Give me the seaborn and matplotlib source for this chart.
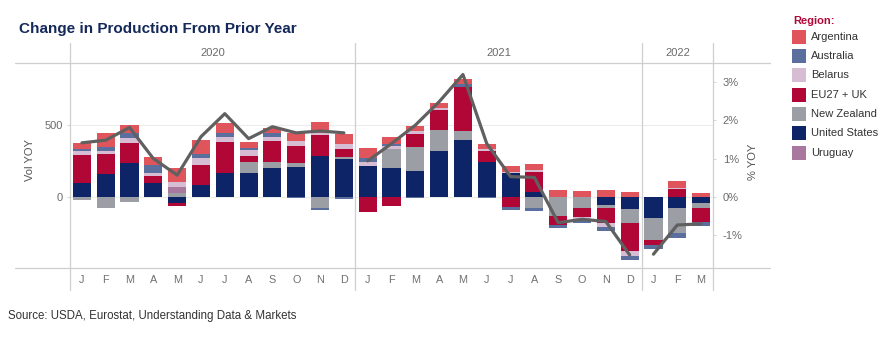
import numpy as np
import pandas as pd
import matplotlib
matplotlib.use("Agg")
import matplotlib.pyplot as plt
import seaborn as sns
from matplotlib.patches import Rectangle
from matplotlib.lines import Line2D

# ---------------- data ----------------
years = ["2020", "2021", "2022"]
months_2020 = ["J", "F", "M", "A", "M", "J", "J", "A", "S", "O", "N", "D"]
months_2021 = ["J", "F", "M", "A", "M", "J", "J", "A", "S", "O", "N", "D"]
months_2022 = ["J", "F", "M"]

regions = ["Argentina", "Australia", "Belarus", "EU27 + UK",
           "New Zealand", "United States", "Uruguay"]

united_states = [95, 158, 238, 95, -44, 83, 164, 169, 204, 211, 285, 262,
                 215, 204, 183, 319, 394, 245, 164, 37, 0, 0, -56, -83,
                 -148, -74, -39]
new_zealand = [-20, -79, -35, 0, 30, 0, 0, 76, 42, 23, -79, 19,
               0, 127, 162, 150, 65, 0, 0, -74, -132, -79, -23, -100,
               -150, -174, -35]
eu27_uk = [197, 139, 139, 51, -19, 139, 220, 39, 146, 123, 146, 56,
           -102, -60, 93, 134, 308, 76, -72, 139, -62, -58, -104, -192,
           -35, 53, -100]
uruguay = [0, 0, 0, 0, 39, 0, 0, 0, 0, 0, 0, 0,
           0, 0, 0, 0, 0, 0, 0, 0, 0, 0, 0, 0,
           0, 0, 0]
belarus = [30, 25, 30, 23, 37, 46, 35, 42, 28, 32, 12, 30,
           30, 23, 21, 16, 0, 16, 12, 12, 0, -23, -23, -35,
           0, 12, 0]
australia = [10, 28, 35, 53, 0, 28, 23, 12, 23, -10, -10, -14,
             23, 14, -10, 0, 19, -8, -16, -21, -19, -23, -30, -28,
             -30, -39, -28]
argentina = [45, 93, 58, 58, 97, 100, 69, 46, 35, 58, 81, 69,
             74, 51, 35, 35, 35, 30, 39, 42, 49, 44, 49, 37,
             0, 46, 30]

pct_yoy = [1.41, 1.48, 1.81, 1.00, 0.57, 1.57, 2.17, 1.52, 1.83, 1.67, 1.72, 1.67,
           0.94, 1.39, 1.87, 2.48, 3.19, 1.39, 0.53, 0.51, -0.67, -0.58, -0.64, -1.51,
           -1.49, -0.73, -0.70]

# ---------------- styling ----------------
colors = {
    "Argentina": "#e0555c",
    "Australia": "#5b6f9e",
    "Belarus": "#d6bdd3",
    "EU27 + UK": "#b00737",
    "New Zealand": "#9b9ea5",
    "United States": "#0d2466",
    "Uruguay": "#a9789f",
}
series = {
    "United States": united_states, "New Zealand": new_zealand,
    "EU27 + UK": eu27_uk, "Uruguay": uruguay, "Belarus": belarus,
    "Australia": australia, "Argentina": argentina,
}
stack_order = ["United States", "New Zealand", "EU27 + UK", "Uruguay",
               "Belarus", "Australia", "Argentina"]

month_labels = months_2020 + months_2021 + months_2022
year_of = [years[0]] * len(months_2020) + [years[1]] * len(months_2021) + [years[2]] * len(months_2022)
n = len(month_labels)
xs = np.arange(n)

sns.set_theme(style="white")
plt.rcParams["font.family"] = ["Liberation Sans", "DejaVu Sans"]

W, H = 892, 344
def fx(p): return p / W
def fy(p): return 1 - p / H

fig = plt.figure(figsize=(W / 100, H / 100), dpi=100)
L, R, T, B = 70, 713, 63, 268
ax = fig.add_axes([fx(L), fy(B), (R - L) / W, (B - T) / H])

# stacked bars (positives up, negatives down)
pos_bottom = np.zeros(n)
neg_bottom = np.zeros(n)
for reg in stack_order:
    vals = np.array(series[reg], dtype=float)
    pos = np.where(vals > 0, vals, 0)
    neg = np.where(vals < 0, vals, 0)
    ax.bar(xs, pos, bottom=pos_bottom, width=0.76, color=colors[reg],
           linewidth=0, zorder=3)
    ax.bar(xs, neg, bottom=neg_bottom, width=0.76, color=colors[reg],
           linewidth=0, zorder=3)
    pos_bottom += pos
    neg_bottom += neg

ax.set_xlim(-0.5, n - 0.5)
ax.set_ylim(-493, 931)
ax.set_yticks([0, 500])
ax.set_yticklabels(["0", "500"])
for yv in [0, 500]:
    ax.axhline(yv, color="#ececec", lw=0.8, zorder=1)
ax.set_xticks(xs)
ax.set_xticklabels(month_labels)
ax.tick_params(axis="x", length=0, pad=5, labelsize=7.8, labelcolor="#707070")
ax.tick_params(axis="y", length=2, width=0.6, color="#cfcfcf", pad=3,
               labelsize=8, labelcolor="#6a6a6a")
for s in ax.spines.values():
    s.set_visible(False)
ax.grid(False)
ax.set_xlabel("")
ax.set_ylabel("")

# % YOY line on secondary axis
ax2 = ax.twinx()
df_line = pd.DataFrame({"x": xs, "pct": pct_yoy, "year": year_of})
sns.lineplot(data=df_line, x="x", y="pct", units="year", estimator=None,
             color="#606060", lw=2.3, ax=ax2, legend=False, zorder=5)
ax2.set_ylim(-1.85, 3.49)
ax2.set_yticks([-1, 0, 1, 2, 3])
ax2.set_yticklabels(["-1%", "0%", "1%", "2%", "3%"])
ax2.tick_params(axis="y", length=2, width=0.6, color="#cfcfcf", pad=5,
                labelsize=8, labelcolor="#6a6a6a")
for s in ax2.spines.values():
    s.set_visible(False)
ax2.grid(False)
ax2.set_xlabel("")
ax2.set_ylabel("")
ax2.set_xlim(-0.5, n - 0.5)

# facet frame lines
line_col = "#cfcfcf"
for py in [T, B]:
    fig.add_artist(Line2D([fx(15), fx(770)], [fy(py), fy(py)], color=line_col, lw=0.9))
for px in [70, 355, 642, 713]:
    fig.add_artist(Line2D([fx(px), fx(px)], [fy(43), fy(290)], color=line_col, lw=0.9))

# strip labels
for label, (a, b) in zip(years, [(70, 355), (355, 642), (642, 713)]):
    fig.text(fx((a + b) / 2), fy(53), label, ha="center", va="center",
             fontsize=8, color="#6a6a6a")

# titles
fig.text(fx(19), fy(32.5), "Change in Production From Prior Year", ha="left",
         va="baseline", fontsize=11, fontweight="bold", color="#14285a")
fig.text(fx(30), fy(160), "Vol YOY", rotation=90, ha="center", va="center",
         fontsize=8, color="#555555")
fig.text(fx(753), fy(162), "% YOY", rotation=90, ha="center", va="center",
         fontsize=8, color="#555555")
fig.text(fx(8), fy(316), "Source: USDA, Eurostat, Understanding Data & Markets",
         ha="left", va="center", fontsize=8.3, color="#333333")

# legend
fig.text(fx(793), fy(21.5), "Region:", ha="left", va="center", fontsize=8,
         fontweight="bold", color="#b00737")
for i, reg in enumerate(regions):
    cy = 36.7 + i * 19.3
    fig.add_artist(Rectangle((fx(792), fy(cy + 7)), 14 / W, 14 / H,
                             facecolor=colors[reg], edgecolor="none",
                             transform=fig.transFigure))
    fig.text(fx(811), fy(cy), reg, ha="left", va="center", fontsize=8,
             color="#333333")

fig.savefig("out.png", dpi=100)
